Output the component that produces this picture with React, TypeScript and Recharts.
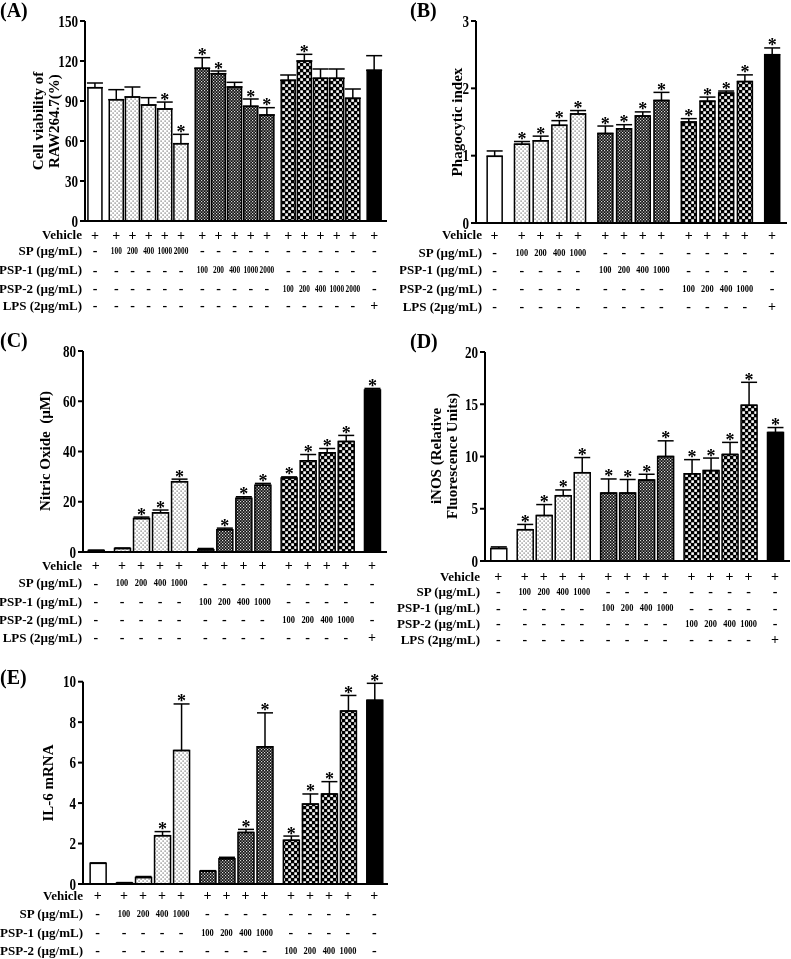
import React from "react";
import { BarChart, Bar, XAxis, YAxis, ErrorBar, Cell, LabelList } from "recharts";

const FONT = '"Liberation Serif", "Times New Roman", serif';

const rowLabels = ["Vehicle", "SP (µg/mL)", "PSP-1 (µg/mL)", "PSP-2 (µg/mL)", "LPS (2µg/mL)"];
const treatments = ["SP", "PSP-1", "PSP-2"];
const dosesA = ["100", "200", "400", "1000", "2000"];
const doses = ["100", "200", "400", "1000"];

// (A) cell viability
const viabilityMean = [100, 91, 93, 87, 84, 58, 114.5, 110.5, 100.5, 86, 79.5, 105.5, 120, 107, 107, 92, 113];
const viabilityErr = [3.5, 7.5, 7.5, 5.5, 5.2, 7, 8, 2, 3.5, 5.5, 5.5, 4, 5, 7, 7, 7, 11];
const viabilityStar = [0, 0, 0, 0, 1, 1, 1, 1, 0, 1, 1, 0, 1, 0, 0, 0, 0];

// (B) phagocytic index
const phagoMean = [0.99, 1.17, 1.22, 1.45, 1.62, 1.33, 1.4, 1.59, 1.82, 1.5, 1.81, 1.93, 2.1, 2.5];
const phagoErr = [0.08, 0.04, 0.07, 0.07, 0.05, 0.11, 0.06, 0.06, 0.12, 0.05, 0.06, 0.03, 0.1, 0.1];
const phagoStar = [0, 1, 1, 1, 1, 1, 1, 1, 1, 1, 1, 1, 1, 1];

// (C) nitric oxide
const noMean = [0.6, 1.4, 13.3, 15.6, 28, 0.9, 8.9, 21.4, 26.6, 29.5, 36.3, 39.5, 44, 64.5];
const noErr = [0.1, 0.2, 0.6, 1.1, 1, 0.5, 0.6, 0.6, 0.7, 0.4, 2.5, 1.7, 2.4, 0.6];
const noStar = [0, 0, 1, 1, 1, 0, 1, 1, 1, 1, 1, 1, 1, 1];

// (D) iNOS
const inosMean = [1.2, 3.0, 4.35, 6.25, 8.45, 6.5, 6.5, 7.75, 10.0, 8.35, 8.65, 10.2, 14.9, 12.3];
const inosErr = [0.15, 0.5, 1.05, 0.55, 1.45, 1.35, 1.3, 0.55, 1.5, 1.35, 1.2, 1.15, 2.2, 0.47];
const inosStar = [0, 1, 1, 1, 1, 1, 1, 1, 1, 1, 1, 1, 1, 1];

// (E) IL-6 mRNA
const il6Mean = [1.02, 0.05, 0.32, 2.39, 6.6, 0.63, 1.25, 2.55, 6.78, 2.16, 3.95, 4.45, 8.55, 9.08];
const il6Err = [0.02, 0.02, 0.05, 0.2, 2.3, 0.03, 0.07, 0.15, 1.68, 0.21, 0.5, 0.61, 0.77, 0.84];
const il6Star = [0, 0, 0, 1, 1, 0, 0, 1, 1, 1, 1, 1, 1, 1];

const FILLS: Record<string, string> = {
  Vehicle: "#fff",
  SP: "url(#pSP)",
  "PSP-1": "url(#pPSP1)",
  "PSP-2": "url(#pPSP2)",
  LPS: "#000",
};

type BarInfo = { group: string; dose: string };

function buildBars(doseList: string[]): BarInfo[] {
  const out: BarInfo[] = [{ group: "Vehicle", dose: "+" }];
  treatments.forEach((g) => doseList.forEach((d) => out.push({ group: g, dose: d })));
  out.push({ group: "LPS", dose: "+" });
  return out;
}

function buildTable(bars: BarInfo[], nRows: number): string[][] {
  const rows = [bars.map(() => "+")];
  const names = [...treatments, "LPS"];
  for (let r = 0; r < nRows - 1; r++) rows.push(bars.map((b) => (b.group === names[r] ? b.dose : "-")));
  return rows;
}

// bar centres along the numeric x axis, with a small extra gap between groups
function positions(bars: BarInfo[], gap: number) {
  let g = 0;
  return bars.map((b, i) => {
    if (i > 0 && b.group !== bars[i - 1].group) g++;
    return i + g * gap;
  });
}

const YTick = (p: any) => (
  <text
    transform={`translate(${p.x},${p.y}) scale(0.82,1)`}
    textAnchor="end"
    dy="0.35em"
    fontSize={16}
    fontWeight="bold"
    fontFamily={FONT}
    fill="#000"
  >
    {p.payload.value}
  </text>
);

interface PanelProps {
  left: number;
  top: number;
  width: number;
  height: number;
  margin: { top: number; right: number; left: number; bottom: number };
  yW: number;
  xH: number;
  doseList: string[];
  mean: number[];
  err: number[];
  star: number[];
  gap: number;
  xDomain: [number, number];
  yDomain: [number, number];
  yTicks: number[];
  barSize: number;
  rowY: number[];
  rowLabelX: number;
  nRows: number;
  numSx: number;
}

function Panel(props: PanelProps) {
  const { left, top, width, height, margin, yW, xH, doseList, mean, err, star, gap, xDomain, yDomain, yTicks, barSize, rowY, rowLabelX, nRows, numSx } = props;
  const bars = buildBars(doseList);
  const pos = positions(bars, gap);
  const data = bars.map((b, i) => ({ x: pos[i], v: mean[i], e: [0, err[i]] }));
  const table = buildTable(bars, nRows);

  const tableTick = (tp: any) => {
    const i = tp.index ?? tp.payload?.index ?? 0;
    return (
      <g>
        {table.map((row, r) => {
          const t = row[i];
          const isNum = t !== "+" && t !== "-";
          return (
            <text
              key={r}
              transform={`translate(${tp.x},${tp.y + rowY[r]}) scale(${isNum ? numSx : 1},1)`}
              textAnchor="middle"
              dy="0.35em"
              fontSize={isNum ? 10.5 : 14}
              fontWeight="bold"
              fontFamily={FONT}
              fill="#000"
            >
              {t}
            </text>
          );
        })}
        {i === 0 &&
          rowLabels.slice(0, nRows).map((lab, r) => (
            <text
              key={"l" + r}
              x={rowLabelX}
              y={tp.y + rowY[r]}
              dy="0.35em"
              textAnchor="end"
              fontSize={13}
              fontWeight="bold"
              fontFamily={FONT}
              fill="#000"
            >
              {lab}
            </text>
          ))}
      </g>
    );
  };

  const starContent = (p: any) => {
    const i = p.index;
    if (i == null || !star[i]) return null;
    const vb = p.viewBox && p.viewBox.width != null ? p.viewBox : p;
    const x = vb.x + vb.width / 2;
    const scale = vb.height / mean[i];
    const errTop = vb.y - err[i] * scale;
    return (
      <text x={x} y={errTop + 3.5} textAnchor="middle" fontSize={18} fontWeight="bold" fontFamily={FONT} fill="#000">
        *
      </text>
    );
  };

  return (
    <div style={{ position: "absolute", left, top }}>
      <BarChart width={width} height={height} data={data} margin={margin}>
        <XAxis
          type="number"
          dataKey="x"
          domain={xDomain}
          allowDataOverflow
          ticks={pos}
          interval={0}
          height={xH}
          tickSize={0}
          tickMargin={0}
          tickLine={false}
          axisLine={{ stroke: "#000", strokeWidth: 2 }}
          tick={tableTick}
        />
        <YAxis
          type="number"
          domain={yDomain}
          ticks={yTicks}
          interval={0}
          width={yW}
          allowDataOverflow
          tickSize={5}
          tickMargin={2}
          axisLine={{ stroke: "#000", strokeWidth: 2 }}
          tickLine={{ stroke: "#000", strokeWidth: 2 }}
          tick={YTick}
        />
        <Bar dataKey="v" barSize={barSize} stroke="#000" strokeWidth={1.5} isAnimationActive={false}>
          {bars.map((b, i) => (
            <Cell key={i} fill={FILLS[b.group]} />
          ))}
          <ErrorBar dataKey="e" width={8} stroke="#000" strokeWidth={1.5} isAnimationActive={false} />
          <LabelList dataKey="v" content={starContent} />
        </Bar>
      </BarChart>
    </div>
  );
}

const textBase: React.CSSProperties = {
  position: "absolute",
  fontFamily: FONT,
  fontWeight: "bold",
  color: "#000",
  whiteSpace: "pre",
};

function PanelLetter({ x, y, t }: { x: number; y: number; t: string }) {
  return <div style={{ ...textBase, left: x, top: y, fontSize: 20, lineHeight: "20px" }}>{t}</div>;
}

function YLabel({ cx, cy, lines, size }: { cx: number; cy: number; lines: string[]; size: number }) {
  return (
    <div
      style={{
        ...textBase,
        left: cx,
        top: cy,
        fontSize: size,
        lineHeight: `${size + 1}px`,
        textAlign: "center",
        transform: "translate(-50%,-50%) rotate(-90deg)",
      }}
    >
      {lines.join("\n")}
    </div>
  );
}

export default function App() {
  return (
    <div style={{ position: "absolute", left: 0, top: 0, width: 791, height: 959, overflow: "hidden", willChange: "transform" }}>
      <svg width={0} height={0} style={{ position: "absolute" }}>
        <defs>
          <pattern id="pSP" width={4} height={4} patternUnits="userSpaceOnUse">
            <rect width={4} height={4} fill="#fff" />
            <rect x={0.5} y={0.5} width={1.2} height={1.2} fill="#666" />
            <rect x={2.5} y={2.5} width={1.2} height={1.2} fill="#666" />
          </pattern>
          <pattern id="pPSP1" width={3} height={3} patternUnits="userSpaceOnUse">
            <rect width={3} height={3} fill="#111" />
            <rect x={0} y={0} width={1.2} height={1.2} fill="#ddd" />
            <rect x={1.5} y={1.5} width={1.2} height={1.2} fill="#ddd" />
          </pattern>
          <pattern id="pPSP2" width={6} height={6} patternUnits="userSpaceOnUse">
            <rect width={6} height={6} fill="#000" />
            <rect x={0.3} y={0.3} width={2.6} height={2.6} fill="#fff" />
            <rect x={3.3} y={3.3} width={2.6} height={2.6} fill="#fff" />
          </pattern>
        </defs>
      </svg>

      <PanelLetter x={0} y={0} t="(A)" />
      <PanelLetter x={410} y={0} t="(B)" />
      <PanelLetter x={0} y={330} t="(C)" />
      <PanelLetter x={410} y={331} t="(D)" />
      <PanelLetter x={0} y={667} t="(E)" />

      <Panel
        left={0} top={0} width={395} height={321}
        margin={{ top: 21, right: 8, left: 40, bottom: 0 }} yW={45} xH={100}
        doseList={dosesA} mean={viabilityMean} err={viabilityErr} star={viabilityStar}
        gap={0.32} xDomain={[-0.62, 18.07]} yDomain={[0, 150]} yTicks={[0, 30, 60, 90, 120, 150]}
        barSize={14} rowY={[13.6, 29.3, 48.6, 67, 84.3]} rowLabelX={82} nRows={5} numSx={0.7}
      />
      <Panel
        left={400} top={0} width={391} height={323}
        margin={{ top: 21, right: 4, left: 36, bottom: 0 }} yW={40} xH={100}
        doseList={doses} mean={phagoMean} err={phagoErr} star={phagoStar}
        gap={0.46} xDomain={[-0.99, 15.64]} yDomain={[0, 3]} yTicks={[0, 1, 2, 3]}
        barSize={15} rowY={[11.6, 29, 46.6, 65, 83.3]} rowLabelX={82} nRows={5} numSx={0.8}
      />
      <Panel
        left={0} top={330} width={395} height={322}
        margin={{ top: 21, right: 8, left: 38, bottom: 0 }} yW={45} xH={100}
        doseList={doses} mean={noMean} err={noErr} star={noStar}
        gap={0.38} xDomain={[-0.67, 15.31]} yDomain={[0, 80]} yTicks={[0, 20, 40, 60, 80]}
        barSize={16} rowY={[13, 30.7, 49, 67, 85.3]} rowLabelX={82} nRows={5} numSx={0.8}
      />
      <Panel
        left={385} top={330} width={406} height={321}
        margin={{ top: 22, right: 1, left: 55, bottom: 0 }} yW={45} xH={90}
        doseList={doses} mean={inosMean} err={inosErr} star={inosStar}
        gap={0.39} xDomain={[-0.7, 15.35]} yDomain={[0, 20]} yTicks={[0, 5, 10, 15, 20]}
        barSize={16} rowY={[15, 30, 46.7, 62, 78]} rowLabelX={95} nRows={5} numSx={0.8}
      />
      <Panel
        left={0} top={650} width={395} height={309}
        margin={{ top: 31.7, right: 7, left: 38, bottom: 0 }} yW={45} xH={75}
        doseList={doses} mean={il6Mean} err={il6Err} star={il6Star}
        gap={0.385} xDomain={[-0.77, 15.26]} yDomain={[0, 10]} yTicks={[0, 2, 4, 6, 8, 10]}
        barSize={16} rowY={[11, 29, 48, 66]} rowLabelX={83} nRows={4} numSx={0.8}
      />

      <YLabel cx={46} cy={121} lines={["Cell viability of", "RAW264.7(%)"]} size={15} />
      <YLabel cx={457} cy={122} lines={["Phagocytic index"]} size={15} />
      <YLabel cx={45} cy={451} lines={["Nitric Oxide  (µM)"]} size={15} />
      <YLabel cx={444} cy={456} lines={["iNOS (Relative", "Fluorescence Units)"]} size={15} />
      <YLabel cx={48} cy={783} lines={["IL-6 mRNA"]} size={15} />
    </div>
  );
}
